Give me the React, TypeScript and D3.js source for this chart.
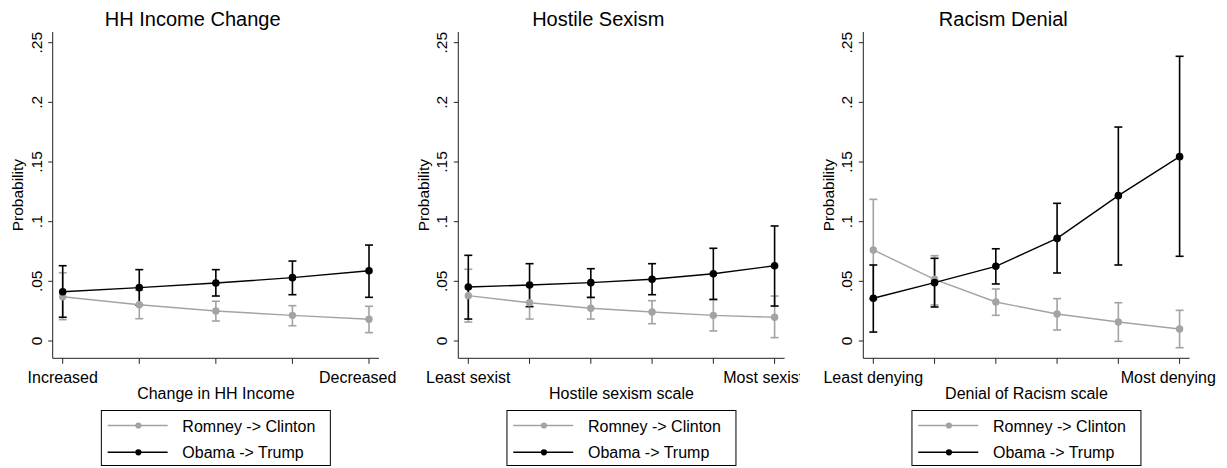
import React from "react";
import * as d3 from "d3";

// ---------- data ----------
const yTicks = [0, 0.05, 0.1, 0.15, 0.2, 0.25];
const yTickLabels = ["0", ".05", ".1", ".15", ".2", ".25"];
const seriesNames = ["Romney -> Clinton", "Obama -> Trump"];

const panelTitles = ["HH Income Change", "Hostile Sexism", "Racism Denial"];
const axisTitles = ["Change in HH Income", "Hostile sexism scale", "Denial of Racism scale"];
const leftLabels = ["Increased", "Least sexist", "Least denying"];
const rightLabels = ["Decreased", "Most sexist", "Most denying"];

const incomeRC = [0.0371, 0.0304, 0.0251, 0.0215, 0.0182];
const incomeRCLo = [0.0179, 0.0187, 0.0168, 0.0128, 0.007];
const incomeRCHi = [0.0572, 0.0425, 0.0333, 0.0296, 0.0291];
const incomeOT = [0.0413, 0.0447, 0.0486, 0.0531, 0.0589];
const incomeOTLo = [0.0199, 0.03, 0.0377, 0.0388, 0.0366];
const incomeOTHi = [0.0631, 0.0598, 0.0598, 0.067, 0.0804];

const sexRC = [0.038, 0.0321, 0.0274, 0.0243, 0.0215, 0.0199];
const sexRCLo = [0.0159, 0.0184, 0.0184, 0.0145, 0.0084, 0.0028];
const sexRCHi = [0.0601, 0.046, 0.0362, 0.0338, 0.0345, 0.0377];
const sexOT = [0.0453, 0.0469, 0.0489, 0.0517, 0.0564, 0.0631];
const sexOTLo = [0.0184, 0.0288, 0.0366, 0.0388, 0.0349, 0.0293];
const sexOTHi = [0.0718, 0.0648, 0.0606, 0.0648, 0.0777, 0.0964];

const raceRC = [0.0763, 0.0517, 0.0327, 0.0226, 0.0159, 0.0101];
const raceRCLo = [0.035, 0.0302, 0.0215, 0.0092, -0.0003, -0.0056];
const raceRCHi = [0.1187, 0.0715, 0.0436, 0.0355, 0.0321, 0.0257];
const raceOT = [0.0358, 0.0489, 0.0626, 0.086, 0.1218, 0.1545];
const raceOTLo = [0.0075, 0.0285, 0.0478, 0.057, 0.0637, 0.071];
const raceOTHi = [0.0637, 0.0693, 0.0773, 0.1154, 0.1793, 0.2386];

const panelData = [
  { rc: incomeRC, rcLo: incomeRCLo, rcHi: incomeRCHi, ot: incomeOT, otLo: incomeOTLo, otHi: incomeOTHi },
  { rc: sexRC, rcLo: sexRCLo, rcHi: sexRCHi, ot: sexOT, otLo: sexOTLo, otHi: sexOTHi },
  { rc: raceRC, rcLo: raceRCLo, rcHi: raceRCHi, ot: raceOT, otLo: raceOTLo, otHi: raceOTHi },
];

// ---------- layout ----------
const W = 1227;
const H = 468;
const axisLefts = [52.7, 458.3, 863.3];
const plotW = 326.3;
const yTop = 32;
const yBottom = 358.3;
const GRAY = "#a3a3a3";
const BLACK = "#000000";
const FONT = "'Liberation Sans', Arial, Helvetica, sans-serif";

const yScale = d3.scaleLinear().domain([0, 0.25]).range([341, 42.7]);

function Series({ x, vals, lo, hi, color, r }: any) {
  const idx = vals.map((_: number, i: number) => i + 1);
  const line = d3
    .line<number>()
    .x((d) => x(d))
    .y((d) => yScale(vals[d - 1]));
  return (
    <g>
      <path d={line(idx) || ""} fill="none" stroke={color} strokeWidth={1.4} />
      {idx.map((d: number) => (
        <circle key={d} cx={x(d)} cy={yScale(vals[d - 1])} r={r} fill={color} />
      ))}
    </g>
  );
}

function CI({ x, lo, hi, color }: any) {
  const cap = 4;
  return (
    <g stroke={color} strokeWidth={1.6} fill="none">
      {lo.map((l: number, i: number) => {
        const cx = x(i + 1);
        const y1 = yScale(l);
        const y2 = yScale(hi[i]);
        return (
          <g key={i}>
            <line x1={cx} x2={cx} y1={y1} y2={y2} />
            <line x1={cx - cap} x2={cx + cap} y1={y1} y2={y1} />
            <line x1={cx - cap} x2={cx + cap} y1={y2} y2={y2} />
          </g>
        );
      })}
    </g>
  );
}

function Panel({ p }: { p: number }) {
  const L = axisLefts[p];
  const R = L + plotW;
  const d = panelData[p];
  const n = d.rc.length;
  const x = d3.scaleLinear().domain([1, n]).range([L + 10, R - 10]);
  const cx = (L + R) / 2;
  const legW = 229;
  const legL = cx - legW / 2;
  const legT = 410.5;
  return (
    <g fontFamily={FONT}>
      <defs>
        <clipPath id={`clip${p}`}>
          <rect x={L - 60} y={0} width={p === 1 ? 800 - (L - 60) : 420} height={H} />
        </clipPath>
      </defs>
      {/* title */}
      <text x={L + 140} y={25.7} fontSize={20} textAnchor="middle" fill="#000">
        {panelTitles[p]}
      </text>
      {/* y axis */}
      <line x1={L} x2={L} y1={yTop} y2={yBottom} stroke="#222" strokeWidth={1} />
      {yTicks.map((t, i) => (
        <g key={i}>
          <line x1={L - 4.5} x2={L} y1={yScale(t)} y2={yScale(t)} stroke="#222" strokeWidth={1} />
          <text
            transform={`translate(${L - 11},${yScale(t)}) rotate(-90)`}
            fontSize={15.5}
            textAnchor="middle"
            fill="#000"
          >
            {yTickLabels[i]}
          </text>
        </g>
      ))}
      <text
        transform={`translate(${L - 29.5},${(yTop + yBottom) / 2}) rotate(-90)`}
        fontSize={15.5}
        textAnchor="middle"
        fill="#000"
      >
        Probability
      </text>
      {/* x axis */}
      <line x1={L} x2={R} y1={yBottom} y2={yBottom} stroke="#222" strokeWidth={1} />
      {d3.range(1, n + 1).map((t) => (
        <line key={t} x1={x(t)} x2={x(t)} y1={yBottom} y2={yBottom + 5.5} stroke="#222" strokeWidth={1} />
      ))}
      <g clipPath={`url(#clip${p})`}>
        <text x={x(1)} y={383.3} fontSize={16} textAnchor="middle" fill="#000">
          {leftLabels[p]}
        </text>
        <text x={x(n) - 11.3} y={383.3} fontSize={16} textAnchor="middle" fill="#000">
          {rightLabels[p]}
        </text>
      </g>
      <text x={cx} y={399.3} fontSize={16} textAnchor="middle" fill="#000">
        {axisTitles[p]}
      </text>
      {/* data */}
      <CI x={x} lo={d.rcLo} hi={d.rcHi} color={GRAY} />
      <CI x={x} lo={d.otLo} hi={d.otHi} color={BLACK} />
      <Series x={x} vals={d.rc} color={GRAY} r={3.7} />
      <Series x={x} vals={d.ot} color={BLACK} r={3.8} />
      {/* legend */}
      <rect x={legL} y={legT} width={legW} height={55} fill="#fff" stroke="#000" strokeWidth={1} />
      {[GRAY, BLACK].map((c, i) => {
        const ly = legT + 15 + i * 26.8;
        return (
          <g key={i}>
            <line x1={legL + 6.3} x2={legL + 66.3} y1={ly} y2={ly} stroke={c} strokeWidth={1.4} />
            <circle cx={legL + 37} cy={ly} r={3.1} fill={c} />
            <text x={legL + 81} y={ly + 6} fontSize={16} fill="#000">
              {seriesNames[i]}
            </text>
          </g>
        );
      })}
    </g>
  );
}

export default function App() {
  return (
    <svg
      width={W}
      height={H}
      viewBox={`0 0 ${W} ${H}`}
      style={{ position: "absolute", left: 0, top: 0, background: "#fff" }}
    >
      <rect x={0} y={0} width={W} height={H} fill="#fff" />
      {[0, 1, 2].map((p) => (
        <Panel key={p} p={p} />
      ))}
    </svg>
  );
}
